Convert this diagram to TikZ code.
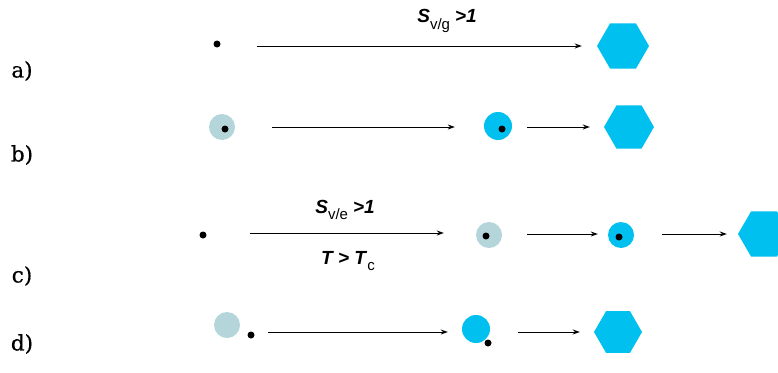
\documentclass[tikz,border=0pt]{standalone}
\usepackage{fontspec}
\setsansfont{Liberation Sans}
\newfontfamily\lblfont[FakeBold=0.6]{DejaVu Serif}
\usetikzlibrary{shapes.geometric,arrows.meta}
\definecolor{paleblue}{RGB}{180,214,218}
\definecolor{iceblue}{RGB}{0,192,240}
\tikzset{
  blackdot/.style={circle,fill=black,inner sep=0pt,minimum size=7pt},
  palecirc/.style={circle,fill=paleblue,inner sep=0pt,minimum size=26pt},
  bluecirc/.style={circle,fill=iceblue,inner sep=0pt,minimum size=28pt},
  crystal/.style={regular polygon,regular polygon sides=6,fill=iceblue,inner sep=0pt,minimum size=52pt},
  arr/.style={-{Stealth[length=7pt,width=5pt]},line width=0.9pt},
  rowlabel/.style={font=\lblfont\fontsize{21.5}{24}\selectfont},
  cond/.style={font=\sffamily\fontsize{19}{21}\selectfont}
}
\newcommand{\sbold}[1]{\textbf{\textit{#1}}}
\newcommand{\subsm}[1]{\raisebox{-0.35em}{\fontsize{15}{16}\selectfont #1}}
\begin{document}
\begin{tikzpicture}[x=1pt,y=-1pt]
\useasboundingbox (0,0) rectangle (778,372);
\clip (0,0) rectangle (778,372);
% row labels
\node[rowlabel] (la) at (22,71) {a)};
\node[rowlabel] (lb) at (22,155) {b)};
\node[rowlabel] (lc) at (22,276) {c)};
\node[rowlabel] (ld) at (22,344) {d)};
% row a
\node[blackdot] (a0) at (217,44) {};
\node[crystal] (a1) at (623,46) {};
\draw[arr,shorten <=36pt,shorten >=15pt] (a0.east |- 0,46) -- (a1.west);
\node[cond] (ta) at (447,21) {\sbold{S}\subsm{v/g}\hspace{5pt}\sbold{>1}};
% row b
\node[palecirc] (b0) at (222,127) {};
\node[blackdot] (b0d) at (225,129) {};
\node[bluecirc] (b1) at (498,126) {};
\node[blackdot] (b1d) at (502,129) {};
\node[crystal,minimum size=50pt] (b2) at (629,127) {};
\draw[arr,shorten <=37pt,shorten >=29pt] (b0.east |- 0,127) -- (b1.west |- 0,127);
\draw[arr,shorten <=15pt,shorten >=14pt] (b1.east |- 0,127) -- (b2.west);
% row c
\node[blackdot] (c0) at (203,235) {};
\node[palecirc] (c1) at (489,235) {};
\node[blackdot] (c1d) at (486,236) {};
\node[bluecirc,minimum size=26pt] (c2) at (621,235) {};
\node[blackdot] (c2d) at (619,237) {};
\node[crystal] (c3) at (764,234) {};
\draw[arr,shorten <=43pt,shorten >=32pt] (c0.east |- 0,233) -- (c1.west |- 0,233);
\draw[arr,shorten <=25pt,shorten >=10pt] (c1.east |- 0,234) -- (c2.west |- 0,234);
\draw[arr,shorten <=28pt,shorten >=11pt] (c2.east |- 0,234) -- (c3.west);
\node[cond] (tc1) at (345,210) {\sbold{S}\subsm{v/e}\hspace{5pt}\sbold{>1}};
\node[cond] (tc2) at (348,261) {\sbold{T > T}\subsm{c}};
% row d
\node[palecirc] (d0) at (227,325) {};
\node[blackdot] (d0d) at (251,335) {};
\node[bluecirc] (d1) at (476,329) {};
\node[blackdot] (d1d) at (488,343) {};
\node[crystal,minimum size=48pt] (d2) at (618,332) {};
\draw[arr,shorten <=13pt,shorten >=14pt] (d0d.east |- 0,332) -- (d1.west |- 0,332);
\draw[arr,shorten <=28pt,shorten >=14pt] (d1.east |- 0,332) -- (d2.west);
\end{tikzpicture}
\end{document}
